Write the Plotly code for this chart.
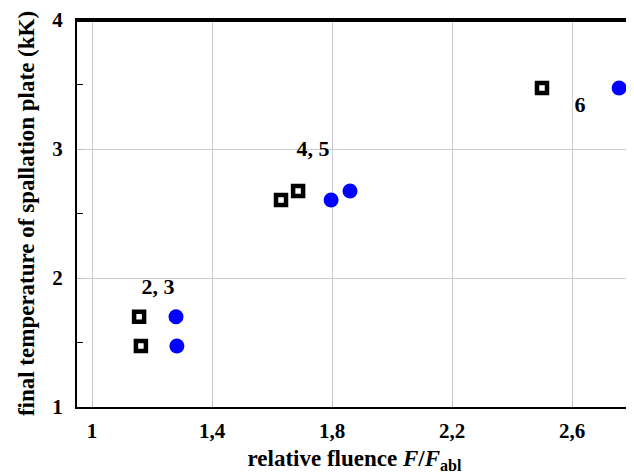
import plotly.graph_objects as go

sq_x = [1.157, 1.163, 1.63, 1.687, 2.50]
sq_y = [1.70, 1.473, 2.605, 2.674, 3.473]
ci_x = [1.28, 1.283, 1.797, 1.86, 2.757]
ci_y = [1.70, 1.473, 2.605, 2.674, 3.473]
lab_text = ["<b>2, 3</b>", "<b>4, 5</b>", "<b>6</b>"]
lab_x = [1.22, 1.737, 2.627]
lab_y = [1.92, 2.99, 3.33]
xticks = [1, 1.4, 1.8, 2.2, 2.6]
xtick_text = ["<b>1</b>", "<b>1,4</b>", "<b>1,8</b>", "<b>2,2</b>", "<b>2,6</b>"]
yticks = [1, 2, 3, 4]
ytick_text = ["<b>1</b>", "<b>2</b>", "<b>3</b>", "<b>4</b>"]

font_family = "Liberation Serif"

fig = go.Figure()
fig.add_trace(go.Scatter(x=sq_x, y=sq_y, mode="markers",
                         marker=dict(symbol="square", size=10, color="white",
                                     line=dict(color="black", width=4.5)),
                         showlegend=False))
fig.add_trace(go.Scatter(x=ci_x, y=ci_y, mode="markers",
                         marker=dict(symbol="circle", size=15, color="#0000ff",
                                     line=dict(width=0)),
                         showlegend=False))
fig.add_trace(go.Scatter(x=lab_x, y=lab_y, mode="text", text=lab_text,
                         textfont=dict(family=font_family, size=22, color="black"),
                         showlegend=False, cliponaxis=False))

fig.update_layout(
    width=626, height=466,
    margin=dict(l=69, r=2, t=12, b=67),
    plot_bgcolor="white", paper_bgcolor="white",
    font=dict(family=font_family, color="black"),
    xaxis=dict(range=[0.95, 2.8], tickvals=xticks, ticktext=xtick_text,
               automargin=False,
               showgrid=True, gridcolor="#cccccc", gridwidth=1,
               zeroline=False, showline=True, mirror=True, linecolor="black", linewidth=2,
               ticks="inside", ticklen=6, tickcolor="#bbbbbb",
               tickfont=dict(size=21, family=font_family),
               ticklabelstandoff=4,
               title=dict(text="<b>relative fluence <i>F</i>/<i>F</i><sub>abl</sub></b>",
                          font=dict(size=23, family=font_family), standoff=14)),
    yaxis=dict(range=[1, 4], tickvals=yticks, ticktext=ytick_text,
               automargin=False,
               showgrid=True, gridcolor="#cccccc", gridwidth=1,
               zeroline=False, showline=True, mirror=True, linecolor="black", linewidth=2,
               ticks="inside", ticklen=6, tickcolor="#bbbbbb",
               tickfont=dict(size=21, family=font_family),
               ticklabelstandoff=8,
               minor=dict(dtick=0.5, ticks="inside", ticklen=6, tickcolor="black", showgrid=False),
               title=dict(text="<b>final temperature of spallation plate (kK)</b>",
                          font=dict(size=23, family=font_family), standoff=11)),
    shapes=[
        dict(type="line", xref="paper", yref="paper", x0=0, x1=0.991, y0=0.9975, y1=0.9975,
             line=dict(color="black", width=2), layer="above"),
        dict(type="line", xref="paper", yref="paper", x0=0.991, x1=0.991, y0=0, y1=0.9975,
             line=dict(color="black", width=2), layer="above"),
    ],
)
fig.write_html("out.html")
